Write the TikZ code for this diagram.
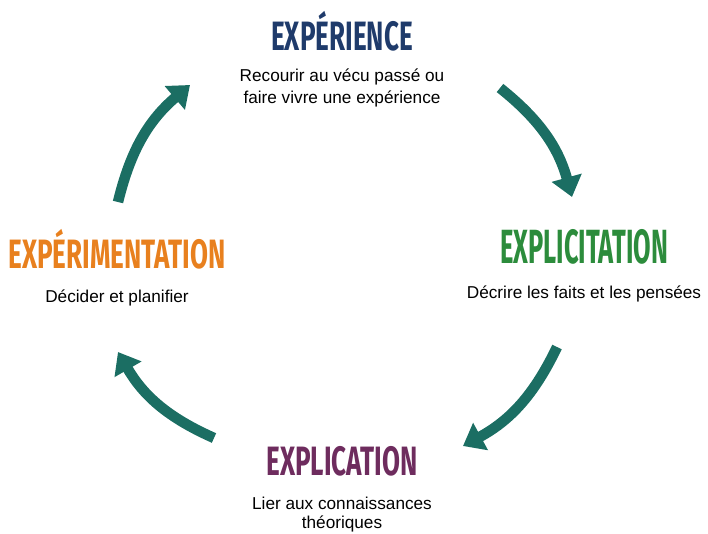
\documentclass[tikz,border=0pt]{standalone}
\usepackage{fontspec}
\setmainfont{Liberation Sans}
\newfontfamily\titlefont[FakeStretch=0.635]{Fira Sans}
\newfontfamily\titlenarrowfont[FakeStretch=0.53]{Fira Sans}
\usetikzlibrary{arrows.meta, positioning}

\definecolor{cyclearrow}{HTML}{1B6E63}
\definecolor{expcolor}{HTML}{1F3B6B}
\definecolor{explcolor}{HTML}{2C8C3C}
\definecolor{expecolor}{HTML}{E8801E}
\definecolor{explacolor}{HTML}{6E2C5E}

\begin{document}
\begin{tikzpicture}[
    x=1pt, y=-1pt,
    >={Triangle[length=20pt,width=30pt]},
    every node/.style={font=\fontsize{17.2}{22}\selectfont},  % Adjust font size here
    node distance=21pt,
    titlestyle/.style={font=\titlefont\bfseries\fontsize{41}{41}\selectfont, inner sep=0pt, anchor=base},
    descstyle/.style={align=center, inner sep=0pt},
    cyclestyle/.style={->, draw=cyclearrow, line width=10.5pt}
]

\useasboundingbox (0,0) rectangle (708,533);

% Titles of the four stages (placed on their baselines)
\node[titlestyle, text=expcolor] (exp) at (342,50) {EXPÉRIENCE};
\node[titlestyle, text=explcolor, font=\titlenarrowfont\bfseries\fontsize{48}{48}\selectfont] (expl) at (584,263) {EXPLICITATION};
\node[titlestyle, text=explacolor] (expla) at (342,475) {EXPLICATION};
\node[titlestyle, text=expecolor] (expe) at (117,268) {EXPÉRIMENTATION};

% Descriptions below the titles
\node[descstyle, below=18pt of exp] (expdesc) {Recourir au vécu passé ou\\faire vivre une expérience};
\node[descstyle, below=22pt of expl] (expldesc) {Décrire les faits et les pensées};
\node[descstyle, below=of expla, font=\fontsize{17.2}{19}\selectfont] (expladesc) {Lier aux connaissances\\théoriques};
\node[descstyle, below=of expe] (expedesc) {Décider et planifier};

% Arrow ends
\coordinate (a1) at (500,88);
\coordinate (b1) at (572,197);
\coordinate (a2) at (557,347);
\coordinate (b2) at (463,446);
\coordinate (a3) at (214,438);
\coordinate (b3) at (118,352);
\coordinate (a4) at (118,202);
\coordinate (b4) at (190,85);

% Cycle arrows
\draw[cyclestyle] (a1) to[bend left=18] (b1);
\draw[cyclestyle] (a2) to[bend left=18] (b2);
\draw[cyclestyle] (a3) to[bend left=18] (b3);
\draw[cyclestyle] (a4) to[bend left=18] (b4);

\end{tikzpicture}
\end{document}
